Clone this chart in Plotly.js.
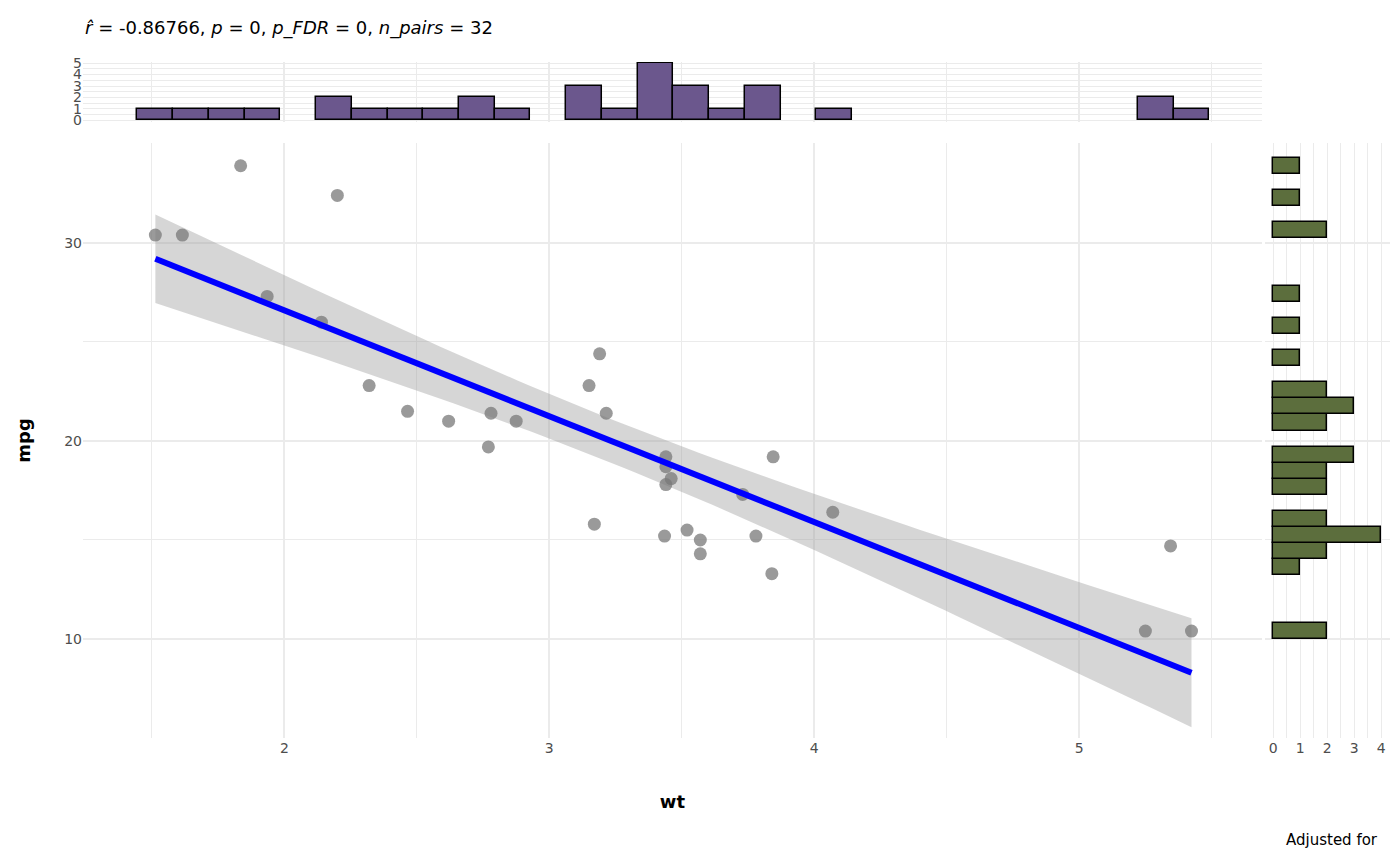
<!DOCTYPE html>
<html>
<head>
<meta charset="utf-8">
<script src="https://cdn.plot.ly/plotly-3.0.1.min.js"></script>
<style>body{margin:0}#chart{width:1400px;height:866px}</style>
</head>
<body>
<div id="chart"></div>
<script>
// mtcars: weight (1000 lbs) and miles per gallon
const wt = [2.62, 2.875, 2.32, 3.215, 3.44, 3.46, 3.57, 3.19, 3.15, 3.44, 3.44, 4.07, 3.73, 3.78, 5.25, 5.424,
            5.345, 2.2, 1.615, 1.835, 2.465, 3.52, 3.435, 3.84, 3.845, 1.935, 2.14, 1.513, 3.17, 2.77, 3.57, 2.78];
const mpg = [21, 21, 22.8, 21.4, 18.7, 18.1, 14.3, 24.4, 22.8, 19.2, 17.8, 16.4, 17.3, 15.2, 10.4, 10.4,
             14.7, 32.4, 30.4, 33.9, 21.5, 15.5, 15.2, 13.3, 19.2, 27.3, 26, 30.4, 15.8, 19.7, 15, 21.4];
const titleText = "<i>r&#770;</i> = -0.86766, <i>p</i> = 0, <i>p_FDR</i> = 0, <i>n_pairs</i> = 32";

// linear fit with 95% confidence band (lm, as in geom_smooth)
function fitLine() {
    const n = wt.length;
    const mx = wt.reduce((a, b) => a + b) / n;
    const my = mpg.reduce((a, b) => a + b) / n;
    let sxx = 0, sxy = 0;
    for (let i = 0; i < n; i++) { sxx += (wt[i] - mx) ** 2; sxy += (wt[i] - mx) * (mpg[i] - my); }
    const b = sxy / sxx, a = my - b * mx;
    let sse = 0;
    for (let i = 0; i < n; i++) sse += (mpg[i] - a - b * wt[i]) ** 2;
    const s = Math.sqrt(sse / (n - 2)), t = 2.042;
    const lo = Math.min(...wt), hi = Math.max(...wt);
    const xs = [], ys = [], up = [], dn = [];
    for (let k = 0; k <= 80; k++) {
        const x = lo + (hi - lo) * k / 80;
        const y = a + b * x;
        const se = s * Math.sqrt(1 / n + (x - mx) ** 2 / sxx);
        xs.push(x); ys.push(y); up.push(y + t * se); dn.push(y - t * se);
    }
    return { xs, ys, up, dn };
}

const f = fitLine();
const wtMin = Math.min(...wt), wtW = (Math.max(...wt) - wtMin) / 29;
const mpgMin = Math.min(...mpg), mpgW = (Math.max(...mpg) - mpgMin) / 29;
const grid = "#ebebeb";
const tickFont = { family: "DejaVu Sans", size: 14, color: "#4d4d4d" };

const traces = [
    { x: f.xs, y: f.dn, mode: "lines", line: { width: 0 }, hoverinfo: "skip", showlegend: false },
    { x: f.xs, y: f.up, mode: "lines", line: { width: 0 }, fill: "tonexty",
      fillcolor: "rgba(153,153,153,0.4)", showlegend: false },
    { x: wt, y: mpg, mode: "markers", marker: { size: 13, color: "rgba(120,120,120,0.75)" }, showlegend: false },
    { x: f.xs, y: f.ys, mode: "lines", line: { color: "#0000ff", width: 6 }, showlegend: false },
    { type: "histogram", x: wt, xaxis: "x", yaxis: "y2",
      xbins: { start: wtMin - wtW / 2, end: 5.7, size: wtW },
      marker: { color: "#6b578d", line: { color: "black", width: 1.5 } }, showlegend: false },
    { type: "histogram", y: mpg, xaxis: "x3", yaxis: "y", orientation: "h",
      ybins: { start: mpgMin - mpgW / 2, end: 35, size: mpgW },
      marker: { color: "#5c6e3d", line: { color: "black", width: 1.5 } }, showlegend: false }
];

const layout = {
    width: 1400, height: 866,
    margin: { l: 0, r: 0, t: 0, b: 0 },
    paper_bgcolor: "white", plot_bgcolor: "white",
    font: { family: "DejaVu Sans", color: "black" },
    bargap: 0,
    xaxis: { domain: [0.0593, 0.9014], range: [1.24, 5.69], tickvals: [2, 3, 4, 5],
             gridcolor: grid, gridwidth: 1.5, zeroline: false, ticks: "", tickfont: tickFont,
             minor: { tickvals: [1.5, 2.5, 3.5, 4.5, 5.5], showgrid: true, gridcolor: grid, gridwidth: 0.8 },
             title: { text: "<b>wt</b>", font: { size: 18 }, standoff: 40 } },
    yaxis: { domain: [0.1478, 0.8349], range: [5, 35.05], tickvals: [10, 20, 30],
             gridcolor: grid, gridwidth: 1.5, zeroline: false, ticks: "", tickfont: tickFont,
             minor: { tickvals: [5, 15, 25, 35], showgrid: true, gridcolor: grid, gridwidth: 0.8 },
             title: { text: "<b>mpg</b>", font: { size: 18 }, standoff: 28 } },
    yaxis2: { domain: [0.8591, 0.9284], anchor: "x", range: [-0.15, 5.1], tickvals: [0, 1, 2, 3, 4, 5],
              gridcolor: grid, zeroline: false, ticks: "", tickfont: tickFont,
              minor: { dtick: 0.5, showgrid: true, gridcolor: grid } },
    xaxis3: { domain: [0.9036, 0.9929], anchor: "y", range: [-0.3, 4.33], tickvals: [0, 1, 2, 3, 4],
              gridcolor: grid, zeroline: false, ticks: "", tickfont: tickFont,
              minor: { dtick: 0.5, showgrid: true, gridcolor: grid } },
    annotations: [
        { text: titleText, xref: "paper", yref: "paper", x: 0.0593, y: 1 - 28 / 866,
          xanchor: "left", yanchor: "middle", showarrow: false, font: { size: 18 } },
        { text: "Adjusted for", xref: "paper", yref: "paper", x: 0.986, y: 1 - 840 / 866,
          xanchor: "right", yanchor: "middle", showarrow: false, font: { size: 15 } }
    ]
};

Plotly.newPlot("chart", traces, layout, { displayModeBar: false });
</script>
</body>
</html>
